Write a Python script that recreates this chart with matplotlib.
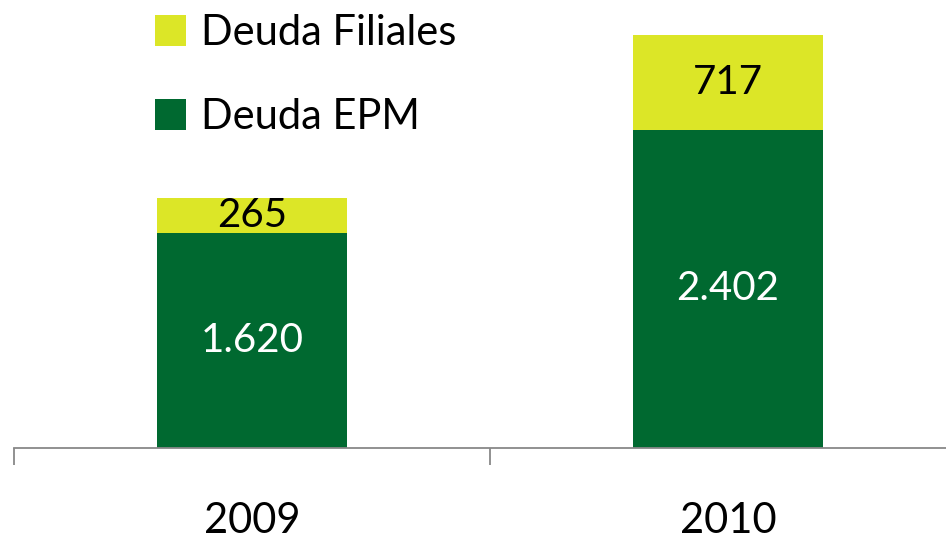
import matplotlib
matplotlib.use('Agg')
import matplotlib.pyplot as plt
import numpy as np

# data
years = ['2009', '2010']
deuda_epm = [1620, 2402]
deuda_filiales = [265, 717]
epm_labels = ['1.620', '2.402']
filiales_labels = ['265', '717']

green = '#006930'
yellow = '#DCE627'
gray = '#888888'

plt.rcParams['font.family'] = ['Lato', 'DejaVu Sans']

fig = plt.figure(figsize=(9.46, 5.41), dpi=100)
ax = fig.add_axes([14 / 946, 0.1719, 952 / 946, 0.7832])

x = np.arange(len(years))
b1 = ax.bar(x, deuda_epm, width=0.4, color=green, label='Deuda EPM')
b2 = ax.bar(x, deuda_filiales, width=0.4, bottom=deuda_epm, color=yellow,
            label='Deuda Filiales')

ax.bar_label(b1, labels=epm_labels, label_type='center', color='white', fontsize=29)
ax.bar_label(b2, labels=filiales_labels, label_type='center', color='black', fontsize=29)

ax.set_xlim(-0.5, 1.5)
ax.set_ylim(0, 3200)
ax.set_yticks([])
for s in ['top', 'left', 'right']:
    ax.spines[s].set_visible(False)
ax.spines['bottom'].set_color(gray)
ax.spines['bottom'].set_linewidth(1.3)

ax.set_xticks(x)
ax.set_xticklabels(years, fontsize=30)
ax.tick_params(axis='x', which='major', length=0, pad=39)
ax.set_xticks([-0.5, 0.5, 1.5], minor=True)
ax.tick_params(axis='x', which='minor', length=12, width=1.3, color=gray)

leg = fig.legend(handles=[b2, b1], loc='upper left', bbox_to_anchor=(151 / 946, 0.982),
                 frameon=False, fontsize=30, handlelength=0.74, handleheight=0.78,
                 handletextpad=0.36, labelspacing=1.1, borderaxespad=0, borderpad=0.1)

fig.savefig('out.png', dpi=100)
